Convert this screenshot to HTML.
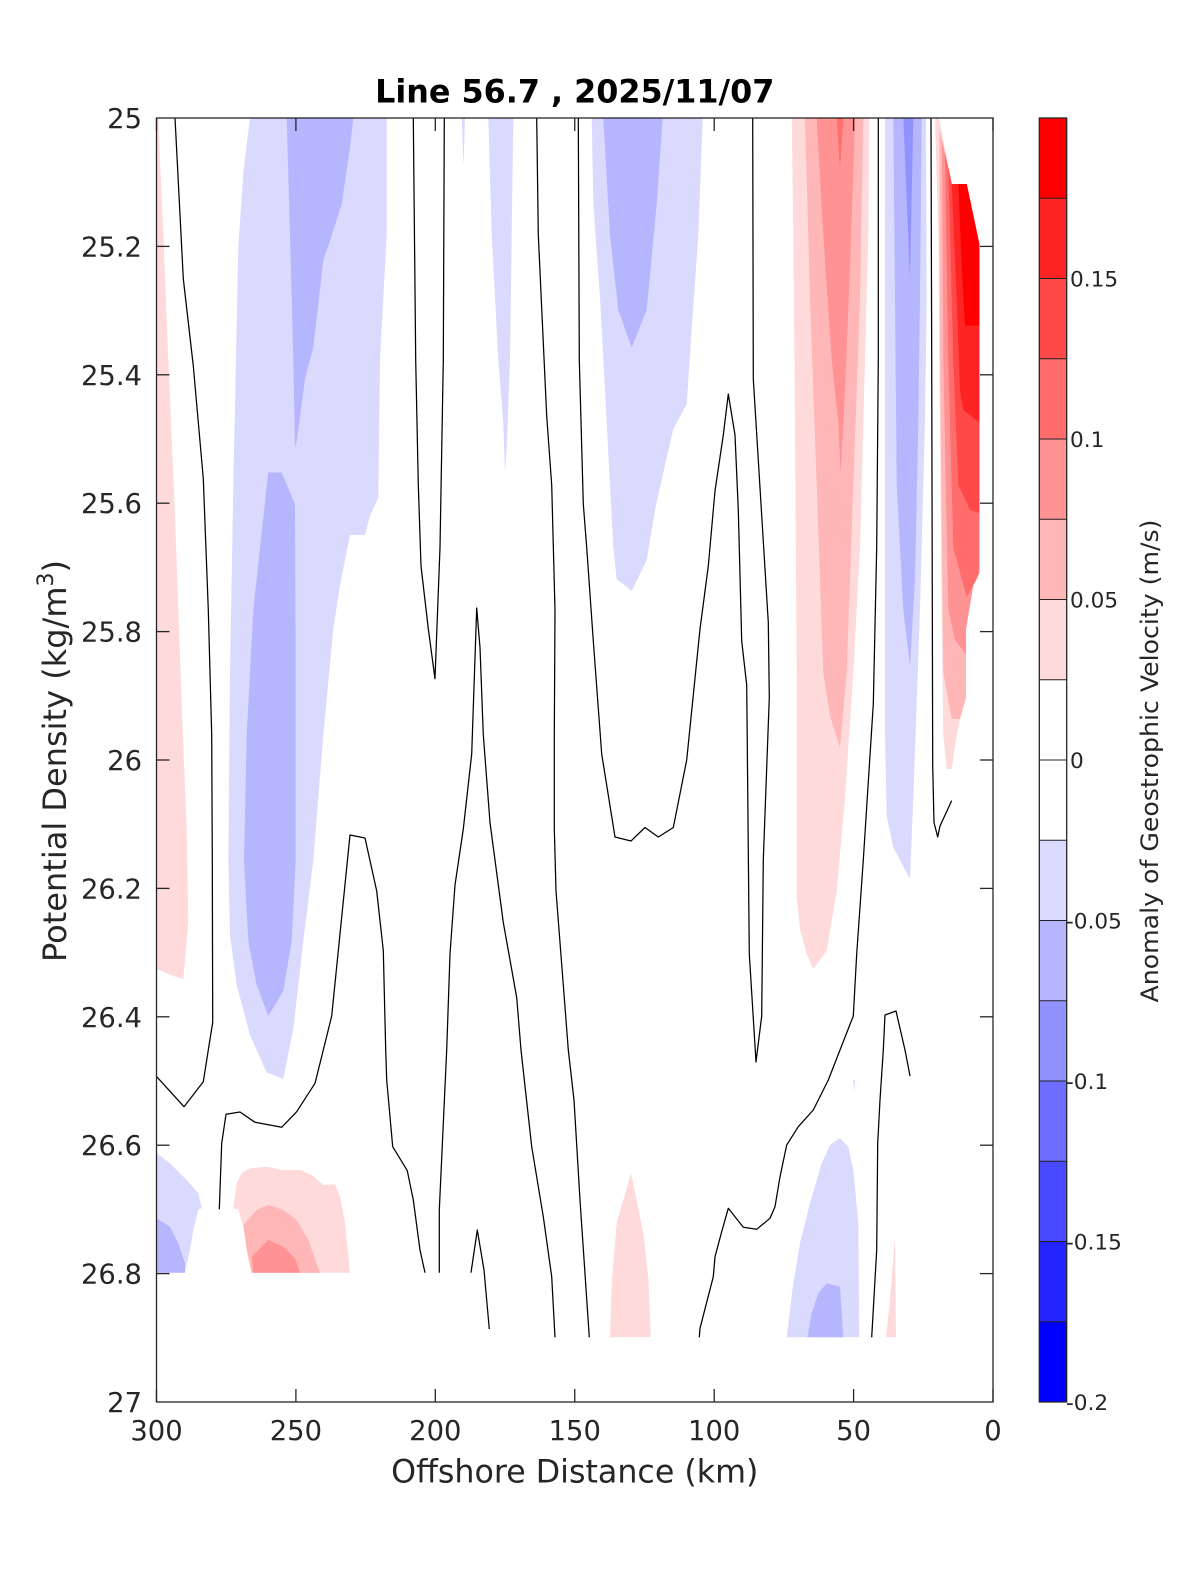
<!DOCTYPE html>
<html><head><meta charset="utf-8"><style>
html,body{margin:0;padding:0;background:#fff;}
svg{display:block;}
text{font-family:"DejaVu Sans","Liberation Sans",sans-serif;}
</style></head><body>
<svg width="1200" height="1575" viewBox="0 0 1200 1575" xmlns="http://www.w3.org/2000/svg">
<rect x="0" y="0" width="1200" height="1575" fill="#fff"/>
<defs><clipPath id="pc"><rect x="156.5" y="118" width="836.5" height="1284"/></clipPath></defs>
<g clip-path="url(#pc)">
<path fill="#ffdada" d="M156.5,118 L158.3,118 L163.3,235 L168.3,360 L175,516 L181.7,704 L186.7,829 L188.3,922 L183.3,979 L173.3,976 L156.5,969 Z"/>
<path fill="#dadaff" d="M250,118 L243.3,172.5 L238.3,247.5 L233.3,485 L230,672.5 L228.3,860 L230,935 L236.7,985 L250,1035 L266.7,1072.5 L283.3,1079 L293.3,1029 L303.3,941 L313.3,860 L323.3,735 L333.3,629 L340,585 L350,535 L365,535 L370,516 L378.3,497.5 L380,360 L386.7,235 L386.7,118 Z"/>
<path fill="#b6b6ff" d="M286.7,118 L353.3,118 L350,147.5 L341.7,204 L330,241 L323.3,260 L318.3,304 L313.3,347.5 L305,379 L301.7,404 L296.7,441 L295,447.5 L293.3,360 L290,235 Z"/>
<path fill="#b6b6ff" d="M268.3,472.5 L281.7,472.5 L295,504 L295.7,672.5 L295.7,860 L291.7,941 L283.3,991 L268.3,1016 L256.7,985 L248.3,941 L244,860 L246.7,735 L253.3,610 L260,547.5 Z"/>
<path fill="#dadaff" d="M461.7,118 L465,118 L463.5,166 Z"/>
<path fill="#dadaff" d="M488.3,118 L513.3,118 L511.7,235 L510,360 L506.7,447.5 L505,472.5 L503.3,422.5 L498.3,360 L491.7,235 Z"/>
<path fill="#dadaff" d="M591.7,118 L702.7,118 L698.3,235 L691.7,329 L686.7,404 L673.3,429 L663.3,472.5 L655,510 L646.7,560 L631.7,591 L616.7,579 L613.3,547.5 L606.7,422.5 L600,297.5 L593.3,204 Z"/>
<path fill="#b6b6ff" d="M603.3,118 L662.7,118 L656.7,204 L646.7,310 L631.7,347.5 L618.3,310 L610,235 Z"/>
<path fill="#ffdada" d="M791.7,118 L869.3,118 L868.3,235 L865,360 L860,547.5 L853.3,672.5 L845,797.5 L836.7,891 L826.7,950.6 L813.3,969 L806.7,954 L800,929 L796.7,897.5 L796.7,672.5 L795,422.5 L793.3,235 Z"/>
<path fill="#ffb6b6" d="M805,118 L863.3,118 L860,297.5 L853.3,485 L846.7,672.5 L840,747.5 L830,716 L823.3,672.5 L816.7,485 L810,297.5 Z"/>
<path fill="#ff9292" d="M816.7,118 L855,118 L853.3,172.5 L850,266 L845,391 L840.7,472.5 L838.3,422.5 L831.7,360 L823.3,235 Z"/>
<path fill="#ff6d6d" d="M836.7,118 L843.3,118 L840,169 Z"/>
<path fill="#dadaff" d="M885,118 L926,118 L926.7,297.5 L925,422.5 L920,610 L913.3,797.5 L910,879 L893.3,847.5 L886.7,816 L885,735 Z"/>
<path fill="#b6b6ff" d="M893.3,118 L921.7,118 L920,297.5 L918.3,422.5 L915,579 L910,666 L903.3,610 L896.7,485 L895,297.5 Z"/>
<path fill="#9292ff" d="M903.3,118 L913.3,118 L910,279 Z"/>
<path fill="#ffdada" d="M935,118 L939,118 L951.7,184 L966.7,184 L979.3,244 L979.3,572.5 L973.3,585 L966,629 L966,697.5 L960,719 L955,745 L951.7,769 L946.7,769 L943.3,735 L941.7,610 L940,422.5 L938.3,235 Z"/>
<path fill="#ffb6b6" d="M939.5,129 L951.7,184 L966.7,184 L979.3,244 L979.3,572.5 L973.3,585 L966,629 L966,697.5 L960,719 L951.7,719 L943.3,672.5 L940,360 Z"/>
<path fill="#ff9292" d="M942,140 L951.7,184 L966.7,184 L979.3,244 L979.3,572.5 L973.3,585 L966,629 L966,654 L955,640 L948.3,610 L943.3,360 Z"/>
<path fill="#ff6d6d" d="M945,152 L951.7,184 L966.7,184 L979.3,244 L979.3,572.5 L976.7,579 L966.7,597.5 L953.3,547.5 L948.3,360 Z"/>
<path fill="#ff4949" d="M948.3,167 L951.7,184 L966.7,184 L979.3,244 L979.3,513 L970,510 L958.3,485 L953.3,360 Z"/>
<path fill="#ff2424" d="M951.7,184 L966.7,184 L979.3,244 L979.3,422.5 L963.3,410 L960,391 L956.7,297.5 Z"/>
<path fill="#ff0000" d="M958.3,184 L966.7,184 L979.3,244 L979.3,325.6 L965,325.6 L961.7,266 Z"/>
<path fill="#dadaff" d="M156.5,1153.3 L170,1163.3 L186.7,1180 L198.3,1193.3 L201.7,1208.3 L198.3,1209.3 L193.3,1230 L190,1250 L185,1272.7 L156.5,1272.7 Z"/>
<path fill="#b6b6ff" d="M156.5,1218.3 L170,1226.7 L178.3,1243.3 L185,1263.3 L185,1272.7 L156.5,1272.7 Z"/>
<path fill="#ffdada" d="M233.3,1208.3 L236.7,1183.3 L241.7,1173.3 L250,1168.3 L266.7,1166.7 L283.3,1170 L300,1170 L311.7,1175 L323.3,1185 L335,1184.3 L340,1196.7 L345,1223.3 L350,1272.7 L253.3,1272.7 L243.3,1226.7 L238.3,1209.3 Z"/>
<path fill="#ffb6b6" d="M243.3,1225 L256.7,1210 L268.3,1205 L283.3,1210 L296.7,1220 L308.3,1240 L320,1272.7 L251.7,1272.7 L246.7,1250 Z"/>
<path fill="#ff9292" d="M251.7,1256.7 L268.3,1240 L283.3,1246.7 L295,1258.3 L300,1272.7 L253.3,1272.7 Z"/>
<path fill="#ffdada" d="M631,1172.7 L643.3,1233.3 L648.3,1276.7 L650.7,1337.3 L610,1337.3 L611.7,1283.3 L616.7,1223.3 Z"/>
<path fill="#dadaff" d="M840,1138.3 L848.3,1146.7 L853.3,1170 L858.3,1223.3 L859.3,1337.3 L786.7,1337.3 L793.3,1283.3 L800,1243.3 L810,1203.3 L821.7,1163.3 L830,1145 Z"/>
<path fill="#b6b6ff" d="M826.7,1283.3 L840,1286.7 L843.3,1337.3 L807.3,1337.3 L811.7,1313.3 L818.3,1293.3 Z"/>
<path fill="#ffdada" d="M895,1236.7 L896,1337.3 L886,1337.3 L890,1300 Z"/>
<path fill="#dadaff" d="M853,1080 L855,1080 L854.5,1092 Z"/>
<g fill="none" stroke="#000" stroke-width="1.25" stroke-linejoin="round">
<path d="M175,118 L183.3,278.75 L193.3,366 L203.3,478.75 L208.3,610 L211.7,735 L212.3,860 L212.7,1022.5 L208.3,1050 L203.3,1081.7 L184,1106.7 L156.7,1076.7"/>
<path d="M413.3,118 L415.7,360 L418.3,485 L421,566 L428.3,628.75 L435,678.75 L440,547.5 L443.3,360 L444.3,118"/>
<path d="M219.3,1209.3 L221.7,1143.3 L226,1114.3 L240,1112 L255,1122.3 L281.7,1127.3 L296.7,1111.7 L315,1083.3 L323.3,1050 L331.7,1016 L350,835 L365,838 L376.7,891 L383.3,950.6 L385.7,1050 L386.7,1080 L392.7,1146.7 L407.3,1170.7 L413.3,1200 L420,1250 L425,1272.7"/>
<path d="M439.3,1272.7 L439.3,1210 L446.7,1050 L450,954 L455,885 L463.3,829 L471.7,754 L476.7,608 L480,647.5 L483.3,735 L490,822.5 L503.3,922.5 L516.7,997.5 L521,1050 L531.7,1146.7 L543.3,1216.7 L551.7,1276.7 L555,1337.3"/>
<path d="M471,1272.7 L477.3,1230 L484,1270 L489.3,1329"/>
<path d="M536.7,118 L538.3,235 L546.7,416 L551.7,485 L555,610 L554.3,735 L554.3,829 L556,891 L563.3,985 L568.3,1050 L574,1100 L580,1200 L589.3,1337.3"/>
<path d="M578.3,118 L579.3,360 L583.3,504 L586.7,547.5 L593.3,641 L601.7,754 L615,837 L631,841 L645,827.5 L658.3,837 L673.3,827.5 L686.7,760 L700,629 L708.3,566 L715,491 L723.3,435 L728.3,394 L735,435 L738.3,510 L741.7,641 L746.7,685 L749.3,954 L756,1062 L761.7,1016 L763.3,860 L769.3,697.5 L768.3,622.5 L753.3,379 L752.7,118"/>
<path d="M878.3,118 L878.3,360 L876.7,547.5 L873.3,704 L863.3,860 L856.7,954 L853.3,1016 L840,1050 L828.3,1080 L813.3,1110 L798.3,1126.7 L786.7,1145 L780,1176.7 L775,1206.7 L770,1218.3 L756.7,1229.3 L743.3,1227.3 L728.3,1208.3 L721.7,1231.7 L715,1256.7 L713.3,1276.7 L700,1328.3 L699.3,1337.3"/>
<path d="M931,118 L931.7,360 L932.7,766 L934,822.5 L937.7,837 L940,826 L951.7,800.6"/>
<path d="M871.7,1337.3 L876.7,1250 L877.7,1143.3 L880,1100 L883.3,1050 L885,1015 L896,1011 L905,1050 L910,1076"/>
</g>
</g>
<rect x="156.5" y="118" width="836.5" height="1284" fill="none" stroke="#262626" stroke-width="1.3"/>
<g stroke="#262626" stroke-width="1.3">
<line x1="156.5" y1="1402" x2="156.5" y2="1389"/><line x1="156.5" y1="118" x2="156.5" y2="131"/>
<line x1="295.9" y1="1402" x2="295.9" y2="1389"/><line x1="295.9" y1="118" x2="295.9" y2="131"/>
<line x1="435.3" y1="1402" x2="435.3" y2="1389"/><line x1="435.3" y1="118" x2="435.3" y2="131"/>
<line x1="574.75" y1="1402" x2="574.75" y2="1389"/><line x1="574.75" y1="118" x2="574.75" y2="131"/>
<line x1="714.2" y1="1402" x2="714.2" y2="1389"/><line x1="714.2" y1="118" x2="714.2" y2="131"/>
<line x1="853.6" y1="1402" x2="853.6" y2="1389"/><line x1="853.6" y1="118" x2="853.6" y2="131"/>
<line x1="993" y1="1402" x2="993" y2="1389"/><line x1="993" y1="118" x2="993" y2="131"/>
<line x1="156.5" y1="246.4" x2="169.5" y2="246.4"/><line x1="993" y1="246.4" x2="980" y2="246.4"/>
<line x1="156.5" y1="374.8" x2="169.5" y2="374.8"/><line x1="993" y1="374.8" x2="980" y2="374.8"/>
<line x1="156.5" y1="503.2" x2="169.5" y2="503.2"/><line x1="993" y1="503.2" x2="980" y2="503.2"/>
<line x1="156.5" y1="631.6" x2="169.5" y2="631.6"/><line x1="993" y1="631.6" x2="980" y2="631.6"/>
<line x1="156.5" y1="760" x2="169.5" y2="760"/><line x1="993" y1="760" x2="980" y2="760"/>
<line x1="156.5" y1="888.4" x2="169.5" y2="888.4"/><line x1="993" y1="888.4" x2="980" y2="888.4"/>
<line x1="156.5" y1="1016.8" x2="169.5" y2="1016.8"/><line x1="993" y1="1016.8" x2="980" y2="1016.8"/>
<line x1="156.5" y1="1145.2" x2="169.5" y2="1145.2"/><line x1="993" y1="1145.2" x2="980" y2="1145.2"/>
<line x1="156.5" y1="1273.6" x2="169.5" y2="1273.6"/><line x1="993" y1="1273.6" x2="980" y2="1273.6"/>
</g>
<g fill="#262626" font-size="27.4" text-anchor="end">
<text x="142" y="128">25</text>
<text x="142" y="256.4">25.2</text>
<text x="142" y="384.8">25.4</text>
<text x="142" y="513.2">25.6</text>
<text x="142" y="641.6">25.8</text>
<text x="142" y="770">26</text>
<text x="142" y="898.4">26.2</text>
<text x="142" y="1026.8">26.4</text>
<text x="142" y="1155.2">26.6</text>
<text x="142" y="1283.6">26.8</text>
<text x="142" y="1412">27</text>
</g>
<g fill="#262626" font-size="27.4" text-anchor="middle">
<text x="156.5" y="1440">300</text>
<text x="295.9" y="1440">250</text>
<text x="435.3" y="1440">200</text>
<text x="574.75" y="1440">150</text>
<text x="714.2" y="1440">100</text>
<text x="853.6" y="1440">50</text>
<text x="993" y="1440">0</text>
</g>
<text x="574.75" y="1482.3" fill="#262626" font-size="31.7" text-anchor="middle">Offshore Distance (km)</text>
<text transform="translate(66,761) rotate(-90)" fill="#262626" font-size="32" text-anchor="middle">Potential Density (kg/m<tspan font-size="22" dy="-13">3</tspan><tspan dy="13">)</tspan></text>
<text x="574.75" y="102.3" fill="#000" font-size="31.8" font-weight="bold" text-anchor="middle">Line 56.7 , 2025/11/07</text>
<g>
<rect x="1039.3" y="118" width="27.4" height="80.25" fill="#ff0000"/>
<rect x="1039.3" y="198.25" width="27.4" height="80.25" fill="#ff2424"/>
<rect x="1039.3" y="278.5" width="27.4" height="80.25" fill="#ff4949"/>
<rect x="1039.3" y="358.75" width="27.4" height="80.25" fill="#ff6d6d"/>
<rect x="1039.3" y="439" width="27.4" height="80.25" fill="#ff9292"/>
<rect x="1039.3" y="519.25" width="27.4" height="80.25" fill="#ffb6b6"/>
<rect x="1039.3" y="599.5" width="27.4" height="80.25" fill="#ffdada"/>
<rect x="1039.3" y="679.75" width="27.4" height="160.5" fill="#ffffff"/>
<rect x="1039.3" y="840.25" width="27.4" height="80.25" fill="#dadaff"/>
<rect x="1039.3" y="920.5" width="27.4" height="80.25" fill="#b6b6ff"/>
<rect x="1039.3" y="1000.75" width="27.4" height="80.25" fill="#9292ff"/>
<rect x="1039.3" y="1081" width="27.4" height="80.25" fill="#6d6dff"/>
<rect x="1039.3" y="1161.25" width="27.4" height="80.25" fill="#4949ff"/>
<rect x="1039.3" y="1241.5" width="27.4" height="80.25" fill="#2424ff"/>
<rect x="1039.3" y="1321.75" width="27.4" height="80.25" fill="#0000ff"/>
</g>
<g stroke="#222" stroke-width="1">
<line x1="1039.3" y1="198.25" x2="1066.7" y2="198.25"/>
<line x1="1039.3" y1="278.5" x2="1066.7" y2="278.5"/>
<line x1="1039.3" y1="358.75" x2="1066.7" y2="358.75"/>
<line x1="1039.3" y1="439" x2="1066.7" y2="439"/>
<line x1="1039.3" y1="519.25" x2="1066.7" y2="519.25"/>
<line x1="1039.3" y1="599.5" x2="1066.7" y2="599.5"/>
<line x1="1039.3" y1="679.75" x2="1066.7" y2="679.75"/>
<line x1="1039.3" y1="760" x2="1066.7" y2="760"/>
<line x1="1039.3" y1="840.25" x2="1066.7" y2="840.25"/>
<line x1="1039.3" y1="920.5" x2="1066.7" y2="920.5"/>
<line x1="1039.3" y1="1000.75" x2="1066.7" y2="1000.75"/>
<line x1="1039.3" y1="1081" x2="1066.7" y2="1081"/>
<line x1="1039.3" y1="1161.25" x2="1066.7" y2="1161.25"/>
<line x1="1039.3" y1="1241.5" x2="1066.7" y2="1241.5"/>
<line x1="1039.3" y1="1321.75" x2="1066.7" y2="1321.75"/>
</g>
<rect x="1039.3" y="118" width="27.4" height="1284" fill="none" stroke="#262626" stroke-width="1.3"/>
<g fill="#262626" font-size="21.6">
<text x="1070" y="286.5">0.15</text>
<text x="1070" y="447">0.1</text>
<text x="1070" y="607.5">0.05</text>
<text x="1070" y="768">0</text>
<text x="1066" y="928.5">-0.05</text>
<text x="1066" y="1089">-0.1</text>
<text x="1066" y="1249.5">-0.15</text>
<text x="1066" y="1410">-0.2</text>
</g>
<text transform="translate(1158,761) rotate(-90)" fill="#262626" font-size="24" text-anchor="middle" textLength="483" lengthAdjust="spacingAndGlyphs">Anomaly of Geostrophic Velocity (m/s)</text>
</svg>
</body></html>
